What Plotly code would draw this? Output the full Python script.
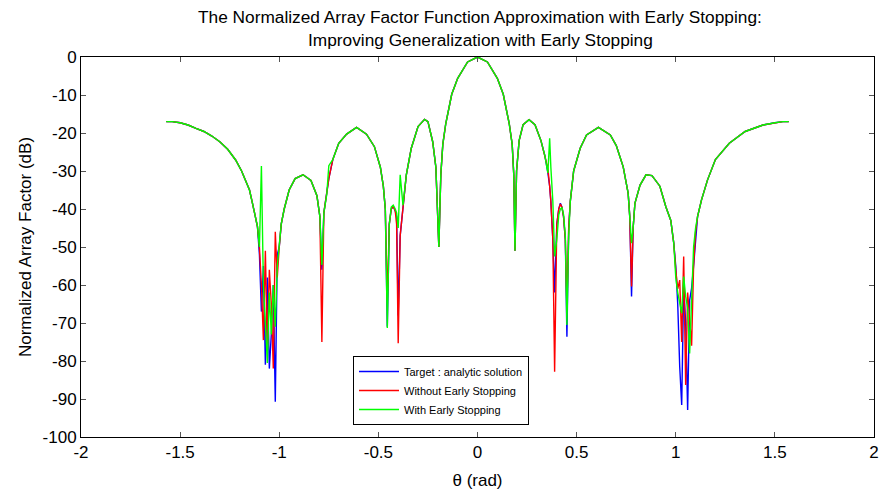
import plotly.graph_objects as go

# ---------------- data ----------------
theta_left = [
    -1.57, -1.54, -1.50, -1.46, -1.42, -1.38, -1.34, -1.30, -1.26, -1.22,
    -1.19, -1.17, -1.15, -1.135, -1.12, -1.11, -1.10, -1.09, -1.08, -1.07,
    -1.06, -1.05, -1.04, -1.03, -1.02, -1.01, -1.00, -0.99, -0.975, -0.95,
    -0.92, -0.88, -0.84, -0.81, -0.795, -0.785, -0.775, -0.76, -0.75, -0.73,
    -0.70, -0.66, -0.61, -0.56, -0.52, -0.49, -0.475, -0.465, -0.455, -0.445,
    -0.435, -0.425, -0.415, -0.408, -0.40, -0.39, -0.376, -0.359, -0.334, -0.30,
    -0.267, -0.25, -0.226, -0.21, -0.195, -0.185, -0.175, -0.16, -0.13, -0.10,
    -0.05, 0.0,
]
theta_right = [
    0.05, 0.10, 0.13, 0.16, 0.175, 0.183, 0.189, 0.197, 0.21, 0.23,
    0.26, 0.29, 0.32, 0.34, 0.355, 0.364, 0.37, 0.38, 0.389, 0.40,
    0.41, 0.418, 0.426, 0.434, 0.443, 0.451, 0.46, 0.468, 0.485, 0.518,
    0.55, 0.61, 0.67, 0.70, 0.735, 0.76, 0.768, 0.777, 0.785, 0.794,
    0.82, 0.85, 0.88, 0.92, 0.95, 0.975, 0.99, 1.00, 1.01, 1.02,
    1.03, 1.04, 1.05, 1.06, 1.07, 1.08, 1.09, 1.10, 1.11, 1.13,
    1.16, 1.20, 1.27, 1.35, 1.44, 1.50, 1.54, 1.57,
]

target_left = [
    -17.0, -17.0, -17.3, -17.9, -18.8, -19.6, -20.8, -22.3, -24.3, -27.1,
    -30.0, -32.3, -35.0, -38.5, -42.0, -44.6, -52.0, -67.0, -55.0, -81.0,
    -58.0, -82.0, -73.0, -60.0, -90.7, -52.0, -50.0, -44.0, -40.0, -35.0,
    -32.0, -31.0, -32.5, -36.5, -42.0, -56.0, -41.0, -36.0, -32.0, -27.0,
    -22.7, -20.3, -18.5, -20.3, -23.6, -29.0, -34.0, -40.0, -71.0, -44.0,
    -40.0, -39.3, -40.5, -42.0, -68.0, -47.0, -39.0, -31.0, -24.0, -18.3,
    -16.4, -17.0, -22.3, -29.0, -50.0, -31.0, -23.0, -17.5, -9.8, -5.6,
    -1.3, 0.0,
]
target_right = [
    -1.3, -5.6, -9.8, -17.5, -23.0, -31.0, -51.0, -30.0, -22.0, -17.8,
    -16.5, -17.8, -22.0, -26.0, -30.5, -34.0, -38.0, -48.0, -62.0, -44.0,
    -40.0, -38.5, -39.5, -42.0, -48.0, -73.6, -45.0, -38.0, -30.0, -24.0,
    -20.5, -18.5, -20.5, -23.3, -28.9, -35.9, -42.0, -63.0, -45.0, -38.5,
    -33.7, -31.0, -31.2, -34.0, -39.4, -43.0, -49.0, -55.0, -65.0, -81.5,
    -91.6, -60.0, -70.0, -92.9, -64.0, -60.8, -55.0, -47.0, -42.0, -37.6,
    -32.4, -27.0, -22.7, -19.6, -17.9, -17.3, -17.0, -17.0,
]

without_left = [
    -17.0, -17.0, -17.3, -17.9, -18.8, -19.6, -20.8, -22.3, -24.3, -27.1,
    -30.0, -32.3, -35.0, -38.5, -42.0, -44.6, -50.0, -60.0, -74.5, -51.0,
    -77.0, -56.0, -65.0, -82.0, -46.0, -58.0, -50.0, -44.0, -40.0, -35.0,
    -32.0, -31.0, -32.5, -36.5, -42.0, -75.0, -41.0, -36.0, -32.0, -27.0,
    -22.7, -20.3, -18.5, -20.3, -23.6, -29.0, -34.0, -40.0, -64.0, -44.0,
    -40.0, -39.3, -40.5, -44.0, -75.3, -47.0, -39.0, -31.0, -24.0, -18.3,
    -16.4, -17.0, -22.3, -29.0, -50.0, -31.0, -23.0, -17.5, -9.8, -5.6,
    -1.3, 0.0,
]
without_right = [
    -1.3, -5.6, -9.8, -17.5, -23.0, -31.0, -51.0, -30.0, -22.0, -17.8,
    -16.5, -17.8, -22.0, -26.0, -29.3, -34.0, -38.0, -48.0, -82.8, -44.0,
    -40.0, -38.7, -39.5, -42.0, -48.0, -66.0, -45.0, -38.0, -30.0, -24.0,
    -20.5, -18.5, -20.5, -23.3, -28.9, -35.9, -42.0, -60.4, -45.0, -38.5,
    -33.7, -31.0, -31.2, -34.0, -39.4, -43.0, -49.0, -56.0, -61.0, -58.7,
    -75.0, -52.5, -86.3, -62.0, -70.0, -76.0, -55.0, -46.0, -42.0, -37.6,
    -32.4, -27.0, -22.7, -19.6, -17.9, -17.3, -17.0, -17.0,
]

with_left = [
    -17.0, -17.0, -17.3, -17.9, -18.8, -19.6, -20.8, -22.3, -24.3, -27.1,
    -30.0, -32.3, -35.0, -38.5, -42.0, -44.6, -50.0, -28.7, -60.0, -72.0,
    -80.5, -62.0, -73.0, -60.0, -71.0, -55.0, -50.0, -44.0, -40.0, -35.0,
    -32.0, -31.0, -32.5, -36.5, -42.0, -54.7, -41.0, -36.0, -28.6, -27.0,
    -22.7, -20.3, -18.5, -20.3, -23.6, -29.0, -34.0, -40.0, -71.3, -44.0,
    -39.5, -39.0, -40.0, -41.0, -45.0, -31.0, -39.0, -31.0, -24.0, -18.3,
    -16.4, -17.0, -22.3, -29.0, -50.0, -31.0, -23.0, -17.5, -9.8, -5.6,
    -1.3, 0.0,
]
with_right = [
    -1.3, -5.6, -9.8, -17.5, -23.0, -31.0, -51.0, -30.0, -22.0, -17.8,
    -16.5, -17.8, -22.0, -26.0, -30.5, -21.4, -29.0, -38.0, -52.5, -48.0,
    -41.5, -40.0, -39.6, -41.5, -47.0, -70.5, -47.0, -38.0, -30.0, -24.0,
    -20.5, -18.5, -20.5, -23.3, -28.9, -35.9, -42.0, -49.0, -45.0, -38.5,
    -33.7, -31.0, -31.2, -34.0, -39.4, -43.0, -49.0, -58.0, -62.0, -64.4,
    -67.4, -57.8, -63.0, -66.0, -78.0, -64.0, -50.0, -45.0, -42.0, -37.6,
    -32.4, -27.0, -22.7, -19.6, -17.9, -17.3, -17.0, -17.0,
]

series_names = ["Target : analytic solution", "Without Early Stopping", "With Early Stopping"]
series_colors = ["#0000ff", "#ff0000", "#00ff00"]

x_ticks = [-2, -1.5, -1, -0.5, 0, 0.5, 1, 1.5, 2]
x_tick_text = ["-2", "-1.5", "-1", "-0.5", "0", "0.5", "1", "1.5", "2"]
y_ticks = [0, -10, -20, -30, -40, -50, -60, -70, -80, -90, -100]
y_tick_text = ["0", "-10", "-20", "-30", "-40", "-50", "-60", "-70", "-80", "-90", "-100"]

title_lines = [
    "The Normalized Array Factor Function Approximation with Early Stopping:",
    "Improving Generalization with Early Stopping",
]

# ---------------- figure ----------------
theta = theta_left + theta_right
ys = [target_left + target_right, without_left + without_right, with_left + with_right]

fig = go.Figure()
for name, color, y in zip(series_names, series_colors, ys):
    fig.add_trace(go.Scatter(x=theta, y=y, mode="lines", name=name,
                             line=dict(color=color, width=1.4)))

font_family = "Liberation Sans, Arial, Helvetica, sans-serif"
fig.update_layout(
    width=880, height=491,
    margin=dict(l=81, r=6, t=57, b=54),
    paper_bgcolor="white", plot_bgcolor="white",
    font=dict(family=font_family, color="black"),
    showlegend=True,
    legend=dict(
        x=0.343, y=0.213, xanchor="left", yanchor="top",
        bgcolor="white", bordercolor="black", borderwidth=1,
        font=dict(size=11, family=font_family, color="black"),
        itemwidth=40, tracegroupgap=0,
    ),
)
for line, ypx in zip(title_lines, [17, 40]):
    fig.add_annotation(
        text=line, xref="paper", yref="paper",
        x=(480 - 81) / 793, y=1 + (57 - ypx) / 380, xanchor="center", yanchor="middle",
        showarrow=False, font=dict(size=17.3, family=font_family, color="black"),
    )
fig.update_xaxes(
    range=[-2, 2], tickvals=x_ticks, ticktext=x_tick_text,
    showgrid=False, zeroline=False, automargin=False, ticklabeloverflow="allow",
    showline=True, linecolor="black", linewidth=1, mirror="ticks",
    ticks="inside", ticklen=5, tickcolor="#555555",
    tickfont=dict(size=17, family=font_family),
    title=dict(text="θ (rad)", font=dict(size=17, family=font_family), standoff=12),
)
fig.update_yaxes(
    range=[-100, 0], tickvals=y_ticks, ticktext=y_tick_text,
    showgrid=False, zeroline=False, automargin=False, ticklabeloverflow="allow",
    showline=True, linecolor="black", linewidth=1, mirror="ticks",
    ticks="inside", ticklen=5, tickcolor="#555555",
    tickfont=dict(size=17, family=font_family),
    title=dict(text="Normalized Array Factor (dB)", font=dict(size=17, family=font_family), standoff=6),
)

fig.write_html("out.html", config={"displayModeBar": False},
               post_script="document.body.style.margin='0';")
